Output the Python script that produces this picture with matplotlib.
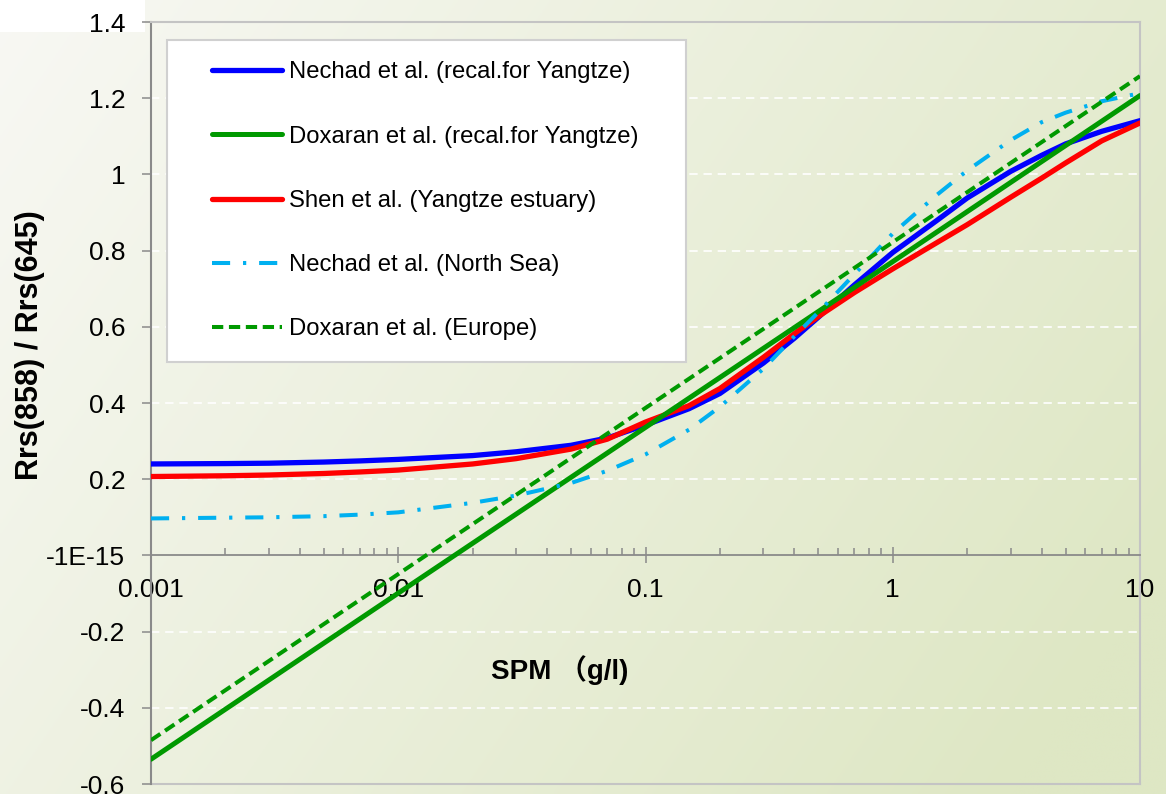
import numpy as np
import matplotlib
matplotlib.use('Agg')
import matplotlib.pyplot as plt
from matplotlib.patches import Rectangle
from matplotlib.ticker import LogLocator, NullFormatter

plt.rcParams['font.family'] = ['Liberation Sans', 'Noto Sans CJK SC', 'DejaVu Sans']

# ---------------- data ----------------
spm = [0.001, 0.002, 0.003, 0.005, 0.007, 0.01, 0.02, 0.03, 0.05, 0.07,
       0.1, 0.15, 0.2, 0.3, 0.4, 0.5, 0.7, 1, 1.5, 2, 3, 4, 5, 7, 10]
nechad_yangtze = [0.240, 0.241, 0.242, 0.245, 0.248, 0.252, 0.262, 0.272, 0.289, 0.308,
                  0.342, 0.385, 0.425, 0.505, 0.570, 0.625, 0.710, 0.795, 0.878, 0.938,
                  1.008, 1.050, 1.080, 1.113, 1.141]
shen_yangtze = [0.207, 0.209, 0.211, 0.215, 0.219, 0.224, 0.240, 0.254, 0.279, 0.305,
                0.350, 0.393, 0.438, 0.520, 0.582, 0.627, 0.690, 0.752, 0.820, 0.868,
                0.940, 0.990, 1.030, 1.088, 1.135]
nechad_northsea = [0.097, 0.099, 0.100, 0.103, 0.107, 0.113, 0.138, 0.157, 0.190, 0.222,
                   0.265, 0.330, 0.390, 0.490, 0.575, 0.638, 0.738, 0.845, 0.945, 1.010,
                   1.090, 1.137, 1.162, 1.192, 1.213]
spm_dox = [0.001, 0.01, 0.1, 1, 10]
doxaran_yangtze = [-0.535, -0.099, 0.336, 0.771, 1.207]
doxaran_europe = [-0.485, -0.049, 0.387, 0.822, 1.258]

series_labels = ['Nechad et al. (recal.for Yangtze)',
                 'Doxaran et al. (recal.for Yangtze)',
                 'Shen et al. (Yangtze estuary)',
                 'Nechad et al. (North Sea)',
                 'Doxaran et al. (Europe)']

y_ticks = [1.4, 1.2, 1.0, 0.8, 0.6, 0.4, 0.2, 0.0, -0.2, -0.4, -0.6]
y_tick_labels = ['1.4', '1.2', '1', '0.8', '0.6', '0.4', '0.2', '-1E-15', '-0.2', '-0.4', '-0.6']
x_ticks = [0.001, 0.01, 0.1, 1, 10]
x_tick_labels = ['0.001', '0.01', '0.1', '1', '10']

x_label = 'SPM （g/l)'
y_label = 'Rrs(858) / Rrs(645)'

# ---------------- figure ----------------
W, H = 1166, 794
fig = plt.figure(figsize=(W / 100, H / 100), dpi=100)

# background gradient
bg = fig.add_axes([0, 0, 1, 1], zorder=-10)
u = np.linspace(0, 1, 400)[None, :]
v = np.linspace(0, 1, 300)[:, None]
t = np.clip(0.75 * u + 0.35 * v, 0, 1)
c0 = np.array([248, 248, 244]) / 255
c1 = np.array([222, 231, 196]) / 255
img = c0 + (c1 - c0) * t[..., None]
bg.imshow(img, extent=[0, 1, 0, 1], aspect='auto', origin='upper')
bg.add_patch(Rectangle((0, 1 - 32 / H), 145 / W, 32 / H, facecolor='white', edgecolor='none'))
bg.set_xlim(0, 1)
bg.set_ylim(0, 1)
bg.axis('off')

ax = fig.add_axes([151 / W, 1 - 784 / H, (1140 - 151) / W, (784 - 22) / H])
ax.patch.set_alpha(0)
ax.set_xscale('log')
ax.set_xlim(0.001, 10)
ax.set_ylim(-0.6, 1.4)

# grid lines
for yv in y_ticks:
    if yv not in (0.0, 1.4, -0.6):
        ax.axhline(yv, color='white', lw=1.2, ls=(0, (5, 3.5)), zorder=1)

# spines
axis_gray = '#8a8a8a'
border_gray = '#c4c4c4'
ax.spines['bottom'].set_position(('data', 0))
ax.spines['bottom'].set_color(axis_gray)
ax.spines['bottom'].set_linewidth(1.3)
ax.spines['left'].set_color(axis_gray)
ax.spines['left'].set_linewidth(1.5)
for s in ('top', 'right'):
    ax.spines[s].set_color(border_gray)
    ax.spines[s].set_linewidth(1.5)
ax.axhline(-0.6, color=border_gray, lw=1.5, clip_on=False, zorder=2)

# ticks
ax.set_yticks(y_ticks)
ax.set_yticklabels(y_tick_labels, fontsize=19)
ax.tick_params(axis='y', direction='out', length=6.5, width=1.1, color=axis_gray, pad=12)
ax.set_xticks(x_ticks)
ax.set_xticklabels(x_tick_labels, fontsize=19)
ax.xaxis.set_minor_locator(LogLocator(base=10, subs=range(2, 10)))
ax.xaxis.set_minor_formatter(NullFormatter())
ax.tick_params(axis='x', which='major', direction='inout', length=11.5, width=1.1,
               color=axis_gray, pad=10.5)
ax.tick_params(axis='x', which='minor', direction='in', length=5, width=1.1, color=axis_gray)

# curves
l_blue, = ax.plot(spm, nechad_yangtze, color='#0000FF', lw=3.8, solid_capstyle='round',
                  solid_joinstyle='round', zorder=3)
l_red, = ax.plot(spm, shen_yangtze, color='#FF0000', lw=3.8, solid_capstyle='round',
                 solid_joinstyle='round', zorder=3.1)
l_green, = ax.plot(spm_dox, doxaran_yangtze, color='#009900', lw=3.6, solid_capstyle='round', zorder=3.2)
l_cyan, = ax.plot(spm, nechad_northsea, color='#00B0F0', lw=2.9,
                  dashes=(4.5, 3.2, 0.8, 3.2), dash_capstyle='butt', zorder=3.3)
l_dash, = ax.plot(spm_dox, doxaran_europe, color='#009900', lw=2.9,
                  dashes=(2.8, 1.4), dash_capstyle='butt', zorder=3.4)

# legend
ax.add_patch(Rectangle((0.0162, 0.5538), 0.5248, 0.4226, transform=ax.transAxes,
                       facecolor='white', edgecolor='#d0d0d0', lw=1.5, zorder=5))
leg = ax.legend([l_blue, l_green, l_red, l_cyan, l_dash], series_labels,
                loc='upper left', bbox_to_anchor=(0.062, 0.9484), frameon=False,
                fontsize=17.2, handlelength=2.93, handletextpad=0.29, labelspacing=1.77,
                borderpad=0, borderaxespad=0)
leg.set_zorder(6)

# axis titles
fig.text(560 / W, 1 - 670 / H, x_label, ha='center', va='center', fontsize=20, fontweight='bold')
fig.text(30 / W, 1 - 345 / H, y_label, rotation=90, ha='center', va='center',
         fontsize=22, fontweight='bold')

fig.savefig('out.png', dpi=100)
